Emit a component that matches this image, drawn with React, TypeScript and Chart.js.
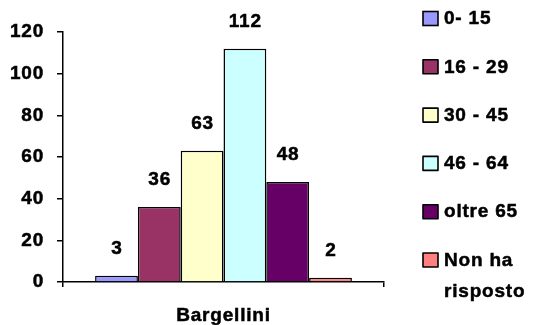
import React, { useEffect, useRef } from "react";
import { Chart, registerables } from "chart.js";

Chart.register(...registerables);

// ---- data ----
const categories = ["Bargellini"];
const seriesLabels = ["0- 15", "16 - 29", "30 - 45", "46 - 64", "oltre 65", "Non ha risposto"];
const seriesValues = [[3], [36], [63], [112], [48], [2]];
const seriesColors = ["#9999FF", "#993366", "#FFFFCC", "#CCFFFF", "#660066", "#FF8080"];
const yMin = 0;
const yMax = 120;
const yStep = 20;

// ---- layout ----
const W = 540;
const H = 325;
const FONT_FAMILY = "'Liberation Sans', Arial, sans-serif";
const FONT_SIZE = 19;
const FONT = `bold ${FONT_SIZE}px ${FONT_FAMILY}`;
const LETTER_SPACING = "0.8px";
const STROKE = 0.5;

const spacingPlugin = {
  id: "spacing",
  beforeDraw(chart: any) {
    try {
      chart.ctx.letterSpacing = LETTER_SPACING;
    } catch (e) {}
  },
};

function drawText(ctx: any, s: string, x: number, y: number) {
  ctx.strokeStyle = "#000";
  ctx.lineWidth = STROKE;
  ctx.lineJoin = "round";
  ctx.strokeText(s, x, y);
  ctx.fillText(s, x, y);
}

const dataLabelsPlugin = {
  id: "dataLabels",
  afterDatasetsDraw(chart: any) {
    const ctx = chart.ctx;
    ctx.save();
    ctx.font = FONT;
    ctx.letterSpacing = LETTER_SPACING;
    ctx.fillStyle = "#000";
    ctx.textAlign = "center";
    ctx.textBaseline = "middle";
    chart.data.datasets.forEach((ds: any, i: number) => {
      const meta = chart.getDatasetMeta(i);
      meta.data.forEach((el: any, j: number) => {
        drawText(ctx, String(ds.data[j]), el.x + 0.4, el.y - 27);
      });
    });
    ctx.restore();
  },
};

const legendPlugin = {
  id: "customLegend",
  afterDraw(chart: any) {
    const ctx = chart.ctx;
    ctx.save();
    ctx.font = FONT;
    ctx.letterSpacing = LETTER_SPACING;
    ctx.textAlign = "left";
    ctx.textBaseline = "middle";
    const markerX = 423;
    const textX = 444;
    const maxW = chart.width - textX - 2;
    chart.data.datasets.forEach((ds: any, i: number) => {
      const yc = 18.5 + i * 48.3;
      ctx.fillStyle = ds.backgroundColor;
      ctx.fillRect(markerX, yc - 7, 15, 14);
      ctx.strokeStyle = "#000";
      ctx.lineWidth = 1.6;
      ctx.strokeRect(markerX, yc - 7, 15, 14);
      const words = String(ds.label).split(" ");
      const lines: string[] = [];
      let cur = "";
      words.forEach((w) => {
        const test = cur ? cur + " " + w : w;
        if (cur && ctx.measureText(test).width > maxW) {
          lines.push(cur);
          cur = w;
        } else {
          cur = test;
        }
      });
      if (cur) lines.push(cur);
      ctx.fillStyle = "#000";
      lines.forEach((ln, k) => drawText(ctx, ln, textX, yc + 0.5 + k * 31));
    });
    ctx.restore();
  },
};

export default function App() {
  const ref = useRef<HTMLCanvasElement | null>(null);

  useEffect(() => {
    if (!ref.current) return;
    const tickFont = { family: FONT_FAMILY, size: FONT_SIZE, weight: "bold" as const };
    const chart = new Chart(ref.current, {
      type: "bar",
      data: {
        labels: categories,
        datasets: seriesLabels.map((label, i) => ({
          label,
          data: seriesValues[i],
          backgroundColor: seriesColors[i],
          borderColor: "#000",
          borderWidth: 1.5,
          categoryPercentage: 0.8,
          barPercentage: 1.0,
        })),
      },
      options: {
        responsive: false,
        animation: false,
        devicePixelRatio: 1,
        layout: { padding: { top: 32, right: W - 384, left: 0, bottom: 0 } },
        plugins: {
          legend: { display: false },
          tooltip: { enabled: false },
        },
        scales: {
          x: {
            grid: {
              drawOnChartArea: false,
              drawTicks: true,
              tickLength: 5,
              color: "#000",
              lineWidth: 1.5,
              offset: true,
            },
            border: { display: true, color: "#000", width: 1.5 },
            ticks: {
              color: "#000",
              font: tickFont,
              padding: 17,
              textStrokeColor: "#000",
              textStrokeWidth: STROKE,
            },
            afterFit(scale: any) {
              scale.height = 43;
            },
          },
          y: {
            min: yMin,
            max: yMax,
            grid: {
              drawOnChartArea: false,
              drawTicks: true,
              tickLength: 6,
              color: "#000",
              lineWidth: 1.5,
            },
            border: { display: true, color: "#000", width: 1.5 },
            ticks: {
              stepSize: yStep,
              color: "#000",
              font: tickFont,
              padding: 13,
              textStrokeColor: "#000",
              textStrokeWidth: STROKE,
            },
            afterFit(scale: any) {
              scale.width = 63;
            },
          },
        },
      },
      plugins: [spacingPlugin, dataLabelsPlugin, legendPlugin],
    });
    return () => chart.destroy();
  }, []);

  return (
    <div style={{ position: "absolute", left: 0, top: 0, width: W, height: H, background: "#fff" }}>
      <canvas ref={ref} width={W} height={H} style={{ display: "block" }} />
    </div>
  );
}
